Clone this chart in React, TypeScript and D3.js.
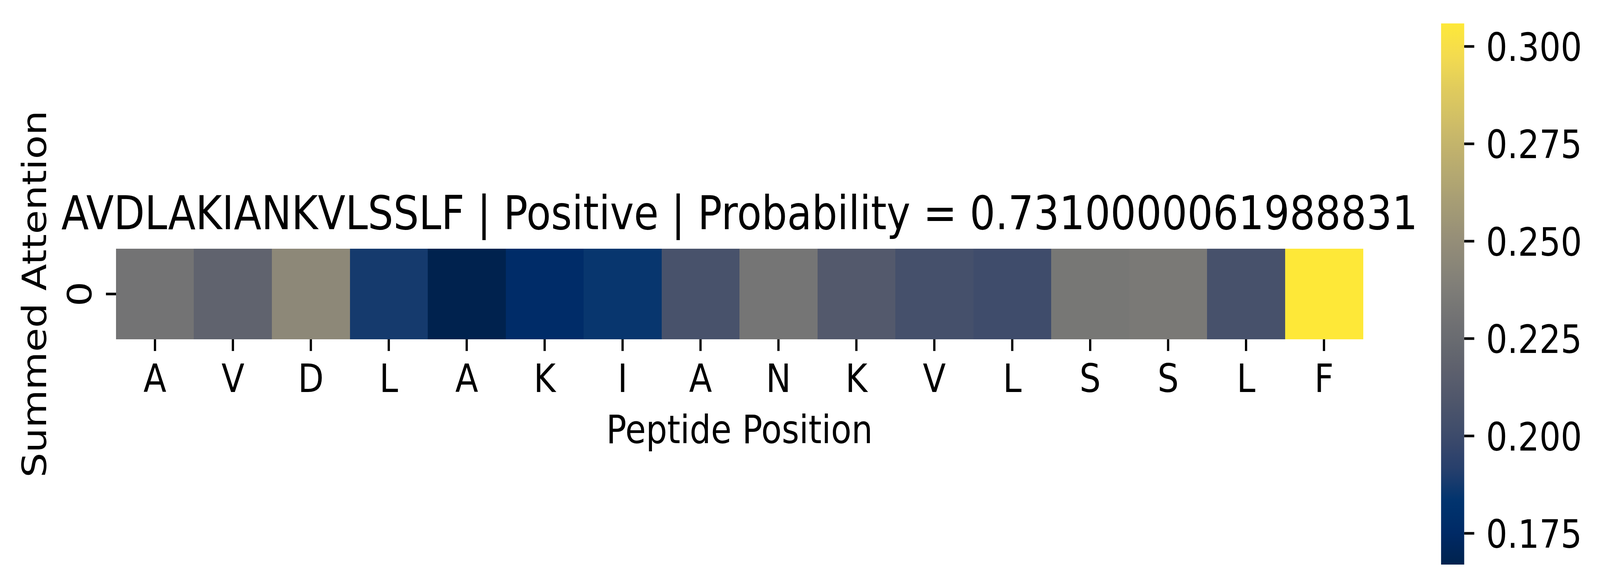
import React from 'react';
import * as d3 from 'd3';

// Data
const residues: string[] = ['A', 'V', 'D', 'L', 'A', 'K', 'I', 'A', 'N', 'K', 'V', 'L', 'S', 'S', 'L', 'F'];
const attention: number[] = [
  0.2309, 0.2191, 0.246, 0.1878, 0.167, 0.1767, 0.185, 0.2059,
  0.2323, 0.2114, 0.2044, 0.201, 0.2337, 0.2351, 0.2052, 0.3059,
];
const rowLabels: string[] = ['0'];
const colorbarTicks: number[] = [0.175, 0.2, 0.225, 0.25, 0.275, 0.3];
const titleText = 'AVDLAKIANKVLSSLF | Positive | Probability = 0.7310000061988831';

// matplotlib's cividis, sampled at 18 even steps (d3's polynomial drifts pink in the greys)
const cividisStops: string[] = [
  '#00224e', '#002a66', '#00346e', '#273f6c', '#3c4a6b', '#4c556b',
  '#5b5f6d', '#686a70', '#757575', '#838178', '#928c78', '#a19876',
  '#b0a572', '#c0b16d', '#d1bf66', '#e1cc5c', '#f3db4f', '#fee838',
];

const W = 4772;
const H = 1506;
const heat = { left: 346, right: 4065, top: 637, bottom: 869 };
const cbar = { left: 4298, right: 4367, top: 60, bottom: 1446 };
const tickLen = 30;
const tickWidth = 6.7;
const font = "'DejaVu Sans', sans-serif";

const colorDomain: [number, number] = [0.16698, 0.30591];

export default function App() {
  // Scales
  const xScale = d3
    .scaleBand<number>()
    .domain(d3.range(residues.length))
    .range([heat.left, heat.right]);
  const yScale = d3.scaleBand<string>().domain(rowLabels).range([heat.top, heat.bottom]);
  const cividis = d3.piecewise(d3.interpolateRgb, cividisStops);
  const color = d3.scaleSequential(cividis).domain(colorDomain);
  const cbarScale = d3.scaleLinear().domain(colorDomain).range([cbar.bottom, cbar.top]);

  const midX = (heat.left + heat.right) / 2;
  const midY = (heat.top + heat.bottom) / 2;
  const stops = d3.range(0, 1.0001, 0.02);

  return (
    <svg
      viewBox={`0 0 ${W} ${H}`}
      preserveAspectRatio="none"
      style={{ position: 'absolute', left: 0, top: 0, width: '100vw', height: '100vh', display: 'block', background: '#fff' }}
      fontFamily={font}
    >
      <defs>
        <linearGradient id="cbar-grad" x1="0" y1="1" x2="0" y2="0">
          {stops.map((t) => (
            <stop key={t} offset={t} stopColor={cividis(t)} />
          ))}
        </linearGradient>
      </defs>

      {/* title */}
      <text x={midX} y={587} fontSize={120} textAnchor="middle">
        {titleText}
      </text>

      {/* heatmap cells */}
      <g shapeRendering="crispEdges">
        {attention.map((v, i) => (
          <rect
            key={i}
            x={xScale(i)}
            y={yScale('0')}
            width={xScale.bandwidth() + 0.5}
            height={yScale.bandwidth()}
            fill={color(v)}
          />
        ))}
      </g>

      {/* x axis */}
      <g>
        {residues.map((r, i) => {
          const cx = (xScale(i) as number) + xScale.bandwidth() / 2;
          return (
            <g key={i}>
              <line x1={cx} x2={cx} y1={heat.bottom} y2={heat.bottom + tickLen} stroke="#000" strokeWidth={tickWidth} />
              <text x={cx} y={1004} fontSize={100} textAnchor="middle">
                {r}
              </text>
            </g>
          );
        })}
        <text x={midX} y={1135} fontSize={100} textAnchor="middle">
          Peptide Position
        </text>
      </g>

      {/* y axis */}
      <g>
        {rowLabels.map((lab) => {
          const cy = (yScale(lab) as number) + yScale.bandwidth() / 2;
          return (
            <g key={lab}>
              <line x1={heat.left - tickLen} x2={heat.left} y1={cy} y2={cy} stroke="#000" strokeWidth={tickWidth} />
              <text transform={`translate(273, ${cy}) rotate(-90)`} fontSize={100} textAnchor="middle">
                {lab}
              </text>
            </g>
          );
        })}
        <text transform={`translate(137, ${midY}) rotate(-90)`} fontSize={100} textAnchor="middle">
          Summed Attention
        </text>
      </g>

      {/* colorbar */}
      <rect
        x={cbar.left}
        y={cbar.top}
        width={cbar.right - cbar.left}
        height={cbar.bottom - cbar.top}
        fill="url(#cbar-grad)"
      />
      {colorbarTicks.map((t) => {
        const y = cbarScale(t);
        return (
          <g key={t}>
            <line x1={cbar.right} x2={cbar.right + tickLen} y1={y} y2={y} stroke="#000" strokeWidth={tickWidth} />
            <text x={4432} y={y + 37} fontSize={100}>
              {d3.format('.3f')(t)}
            </text>
          </g>
        );
      })}
    </svg>
  );
}
